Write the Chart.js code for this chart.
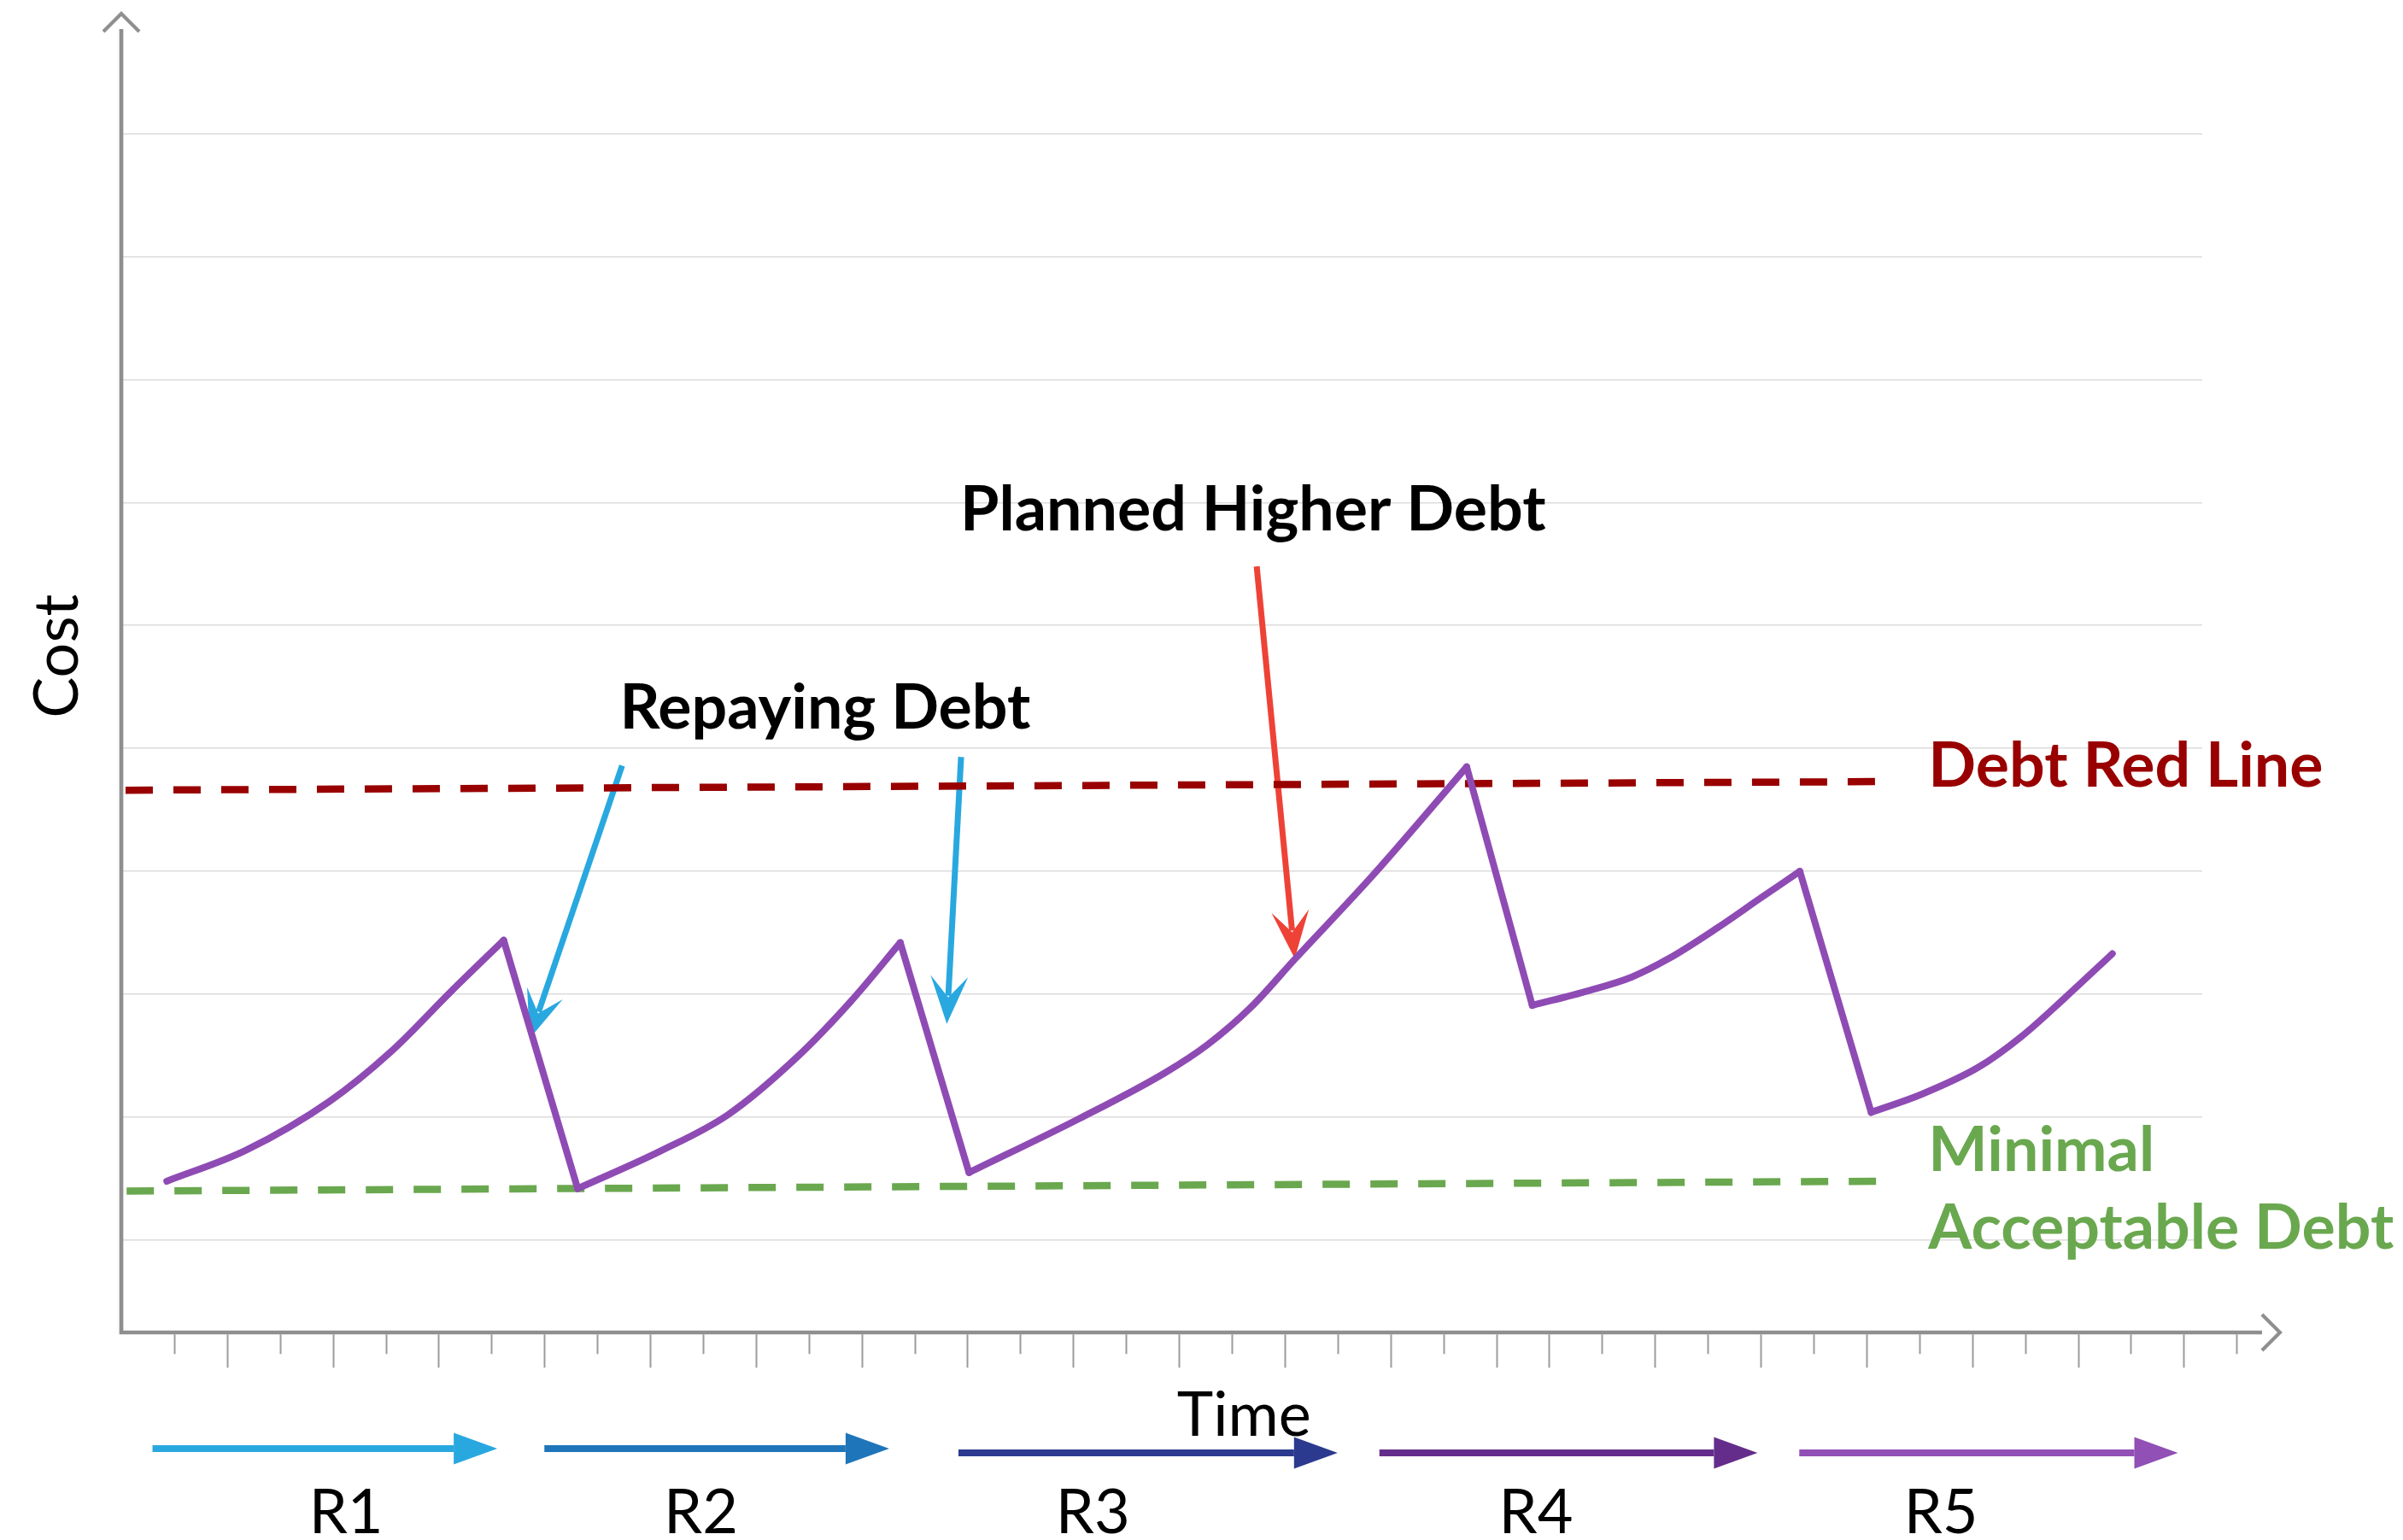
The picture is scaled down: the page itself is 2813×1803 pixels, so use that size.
<!DOCTYPE html>
<html>
<head>
<meta charset="utf-8">
<title>Technical Debt over Releases</title>
<script src="https://cdn.jsdelivr.net/npm/chart.js@4.4.1/dist/chart.umd.min.js"></script>
<style>
    html, body { margin: 0; padding: 0; background: #ffffff; }
    canvas { display: block; }
</style>
</head>
<body>
<canvas id="debtChart" width="2813" height="1803"></canvas>
<script>
// ============================================
// DATA  (x = time ticks, y = cost grid steps)
// ============================================

// debt curve, one rising stretch per release
const r1Time = [0.86, 2.35, 3.94, 5.09, 6.25, 7.23];
const r1Cost = [1.48, 1.73, 2.13, 2.53, 3.03, 3.44];

const r2Time = [8.63, 10.17, 11.47, 12.78, 13.79, 14.73];
const r2Cost = [1.42, 1.72, 2.02, 2.49, 2.94, 3.42];

const r3Time = [16.03, 18.12, 19.73, 20.54, 21.35, 22.20, 23.65, 25.44];
const r3Cost = [1.55, 1.99, 2.36, 2.59, 2.89, 3.29, 3.96, 4.85];

const r4Time = [26.68, 27.75, 28.56, 29.26, 30.18, 30.99, 31.74];
const r4Cost = [2.91, 3.03, 3.14, 3.29, 3.54, 3.78, 4.00];

const r5Time = [33.09, 34.06, 35.13, 35.94, 36.75, 37.65];
const r5Cost = [2.04, 2.19, 2.41, 2.66, 2.97, 3.33];

// threshold lines (start, end)
const redLineTime = [0.08, 33.36];
const redLineCost = [4.66, 4.73];
const minLineTime = [0.10, 33.36];
const minLineCost = [1.40, 1.48];

// releases along the time axis
const releaseNames = ['R1', 'R2', 'R3', 'R4', 'R5'];
const releaseStart = [0.59, 8.00, 15.83, 23.79, 31.73];
const releaseEnd = [7.11, 14.52, 23.00, 30.94, 38.89];
const releaseLabelAt = [4.25, 10.96, 18.37, 26.75, 34.41];

// cost gridlines and time ticks
const costGrid = [1, 2, 3, 4, 5, 6, 7, 8, 9, 10];
const timeTicks = Array.from({ length: 40 }, (_, i) => i + 1);

// callout arrows: [fromTime, fromCost, toTime, toCost]
const repayArrows = [[9.47, 4.86, 7.72, 2.64], [15.88, 4.93, 15.61, 2.76]];
const plannedArrow = [21.47, 6.48, 22.19, 3.29];

// ============================================
// STYLE
// ============================================
const PURPLE = '#8f4bb4';
const DARK_RED = '#990000';
const GREEN = '#6aa84f';
const AXIS_GRAY = '#8f8f8f';
const FONT = 'Lato, "Open Sans", sans-serif';
const releaseColors = ['#29a8e0', '#1f75b9', '#2b3a8e', '#652d8b', '#9150b5'];
const releaseRowOffset = [136, 136, 141, 141, 141];

function toPoints(xs, ys) {
    return xs.map((x, i) => ({ x: x, y: ys[i] }));
}

// ============================================
// DATASETS
// ============================================
const cycles = [
    [r1Time, r1Cost], [r2Time, r2Cost], [r3Time, r3Cost], [r4Time, r4Cost], [r5Time, r5Cost]
];

const debtSets = [];
cycles.forEach(([t, c], i) => {
    debtSets.push({
        data: toPoints(t, c),
        borderColor: PURPLE,
        borderWidth: 8,
        borderCapStyle: 'round',
        cubicInterpolationMode: 'monotone',
        pointRadius: 0
    });
    // repayment drop into the next release
    if (i < cycles.length - 1) {
        const [nt, nc] = cycles[i + 1];
        debtSets.push({
            data: [{ x: t[t.length - 1], y: c[c.length - 1] }, { x: nt[0], y: nc[0] }],
            borderColor: PURPLE,
            borderWidth: 8,
            borderCapStyle: 'round',
            tension: 0,
            pointRadius: 0
        });
    }
});

const thresholdSets = [
    { data: toPoints(redLineTime, redLineCost), borderColor: DARK_RED },
    { data: toPoints(minLineTime, minLineCost), borderColor: GREEN }
].map(d => Object.assign(d, { borderWidth: 8.5, borderDash: [32, 24], pointRadius: 0, tension: 0 }));

// ============================================
// DRAWING HELPERS
// ============================================
function chevron(ctx, tx, ty, dx, dy) {
    // open arrow head pointing along (dx, dy)
    const len = 21, half = 21;
    const m = Math.hypot(dx, dy), ux = dx / m, uy = dy / m;
    ctx.beginPath();
    ctx.moveTo(tx - ux * len - uy * half, ty - uy * len + ux * half);
    ctx.lineTo(tx, ty);
    ctx.lineTo(tx - ux * len + uy * half, ty - uy * len - ux * half);
    ctx.stroke();
}

function pointer(ctx, x1, y1, x2, y2, color) {
    // shaft with a notched head, tip at (x2, y2)
    const m = Math.hypot(x2 - x1, y2 - y1), ux = (x2 - x1) / m, uy = (y2 - y1) / m;
    const back = 56, half = 22, notch = 31;
    ctx.save();
    ctx.strokeStyle = color;
    ctx.fillStyle = color;
    ctx.lineWidth = 7;
    ctx.beginPath();
    ctx.moveTo(x1, y1);
    ctx.lineTo(x2 - ux * (notch + 2), y2 - uy * (notch + 2));
    ctx.stroke();
    ctx.beginPath();
    ctx.moveTo(x2, y2);
    ctx.lineTo(x2 - ux * back - uy * half, y2 - uy * back + ux * half);
    ctx.lineTo(x2 - ux * notch, y2 - uy * notch);
    ctx.lineTo(x2 - ux * back + uy * half, y2 - uy * back - ux * half);
    ctx.closePath();
    ctx.fill();
    ctx.restore();
}

function blockArrow(ctx, xa, xb, yy, color) {
    const head = 51, half = 18.5;
    ctx.save();
    ctx.fillStyle = color;
    ctx.fillRect(xa, yy - 4, xb - head - xa, 8);
    ctx.beginPath();
    ctx.moveTo(xb, yy);
    ctx.lineTo(xb - head, yy - half);
    ctx.lineTo(xb - head, yy + half);
    ctx.closePath();
    ctx.fill();
    ctx.restore();
}

// ============================================
// PLUGINS
// ============================================
const calloutPlugin = {
    id: 'callouts',
    beforeDatasetsDraw(chart) {
        const { ctx, scales: { x, y } } = chart;
        repayArrows.forEach(a => pointer(ctx,
            x.getPixelForValue(a[0]), y.getPixelForValue(a[1]),
            x.getPixelForValue(a[2]), y.getPixelForValue(a[3]), '#29a8e0'));
        pointer(ctx,
            x.getPixelForValue(plannedArrow[0]), y.getPixelForValue(plannedArrow[1]),
            x.getPixelForValue(plannedArrow[2]), y.getPixelForValue(plannedArrow[3]), '#ee4237');
    }
};

const axesPlugin = {
    id: 'debtAxes',
    afterDraw(chart) {
        const { ctx, chartArea, scales: { x, y } } = chart;
        const left = x.getPixelForValue(0);
        const base = y.getPixelForValue(y.min);
        const top = y.getPixelForValue(y.max);
        const xEnd = x.getPixelForValue(40.48);

        ctx.save();

        // axis lines with open arrow heads
        ctx.strokeStyle = AXIS_GRAY;
        ctx.lineWidth = 4.7;
        ctx.beginPath();
        ctx.moveTo(left, base + 2.3);
        ctx.lineTo(left, top);
        ctx.moveTo(left - 2.3, base);
        ctx.lineTo(xEnd, base);
        ctx.stroke();
        ctx.lineWidth = 4.2;
        chevron(ctx, left, top - 18, 0, -1);
        chevron(ctx, xEnd + 21, base, 1, 0);

        // time ticks, long and short
        ctx.strokeStyle = '#9c9c9c';
        ctx.lineWidth = 2;
        ctx.beginPath();
        timeTicks.forEach(k => {
            const px = Math.round(x.getPixelForValue(k)) + 0.5;
            const isLong = k <= 26 ? k % 2 === 0 : k % 2 === 1;
            ctx.moveTo(px, base + 2.3);
            ctx.lineTo(px, base + 2.3 + (isLong ? 39 : 23));
        });
        ctx.stroke();

        // releases
        releaseNames.forEach((name, i) => {
            blockArrow(ctx, x.getPixelForValue(releaseStart[i]), x.getPixelForValue(releaseEnd[i]),
                base + releaseRowOffset[i], releaseColors[i]);
        });
        ctx.fillStyle = '#000';
        ctx.textAlign = 'center';
        ctx.textBaseline = 'alphabetic';
        ctx.font = '72px ' + FONT;
        releaseNames.forEach((name, i) => {
            ctx.fillText(name, x.getPixelForValue(releaseLabelAt[i]), base + 235);
        });

        // axis titles
        ctx.fillText('Time', x.getPixelForValue(21.23), base + 121);
        ctx.save();
        ctx.translate(chartArea.left - 74, y.getPixelForValue(5.75));
        ctx.rotate(-Math.PI / 2);
        ctx.textBaseline = 'middle';
        ctx.fillText('Cost', 0, 0);
        ctx.restore();

        // callout and threshold labels
        const notes = [
            { text: 'Planned Higher Debt', t: 21.40, c: 6.775, align: 'center', color: '#000' },
            { text: 'Repaying Debt', t: 13.31, c: 5.16, align: 'center', color: '#000' },
            { text: 'Debt Red Line', t: 34.17, c: 4.69, align: 'left', color: DARK_RED },
            { text: 'Minimal', t: 34.17, c: 1.56, align: 'left', color: GREEN },
            { text: 'Acceptable Debt', t: 34.17, c: 0.93, align: 'left', color: GREEN }
        ];
        ctx.font = 'bold 73.5px ' + FONT;
        notes.forEach(n => {
            ctx.fillStyle = n.color;
            ctx.textAlign = n.align;
            ctx.fillText(n.text, x.getPixelForValue(n.t), y.getPixelForValue(n.c));
        });

        ctx.restore();
    }
};

// ============================================
// CHART
// ============================================
new Chart(document.getElementById('debtChart'), {
    type: 'line',
    data: { datasets: debtSets.concat(thresholdSets) },
    options: {
        responsive: false,
        animation: false,
        layout: { padding: { left: 142, right: 235, top: 34, bottom: 243 } },
        scales: {
            x: { type: 'linear', display: false, min: 0, max: 39.35 },
            y: {
                type: 'linear',
                min: 0.25,
                max: 10.85,
                ticks: { display: false },
                border: { display: false },
                grid: { drawTicks: false, color: '#dcdcdc', lineWidth: 1.5 },
                afterBuildTicks: scale => {
                    scale.ticks = costGrid.map(v => ({ value: v }));
                }
            }
        },
        plugins: {
            legend: { display: false },
            tooltip: { enabled: false }
        }
    },
    plugins: [calloutPlugin, axesPlugin]
});
</script>
</body>
</html>
